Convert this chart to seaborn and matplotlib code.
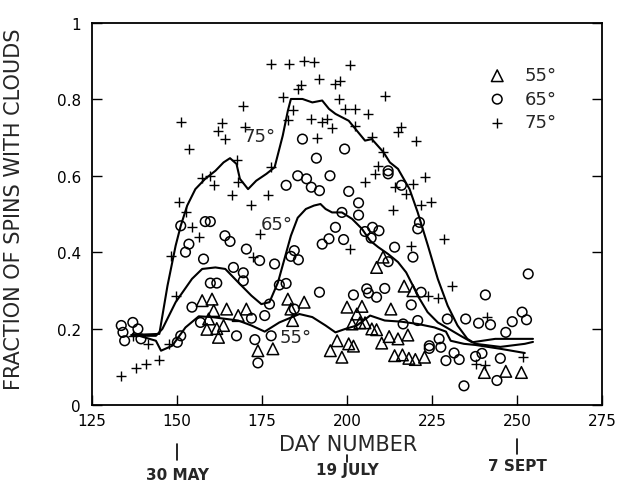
import numpy as np
import pandas as pd
import matplotlib
matplotlib.use("Agg")
import matplotlib.pyplot as plt
import seaborn as sns

# ---------------- data ----------------
day_75 = [133.6, 137.9, 140.9, 144.8, 137.0, 141.4, 147.7, 149.6, 148.2, 150.6,
          152.5, 154.4, 156.4, 151.1, 153.5, 157.4, 159.8, 161.0, 162.2, 163.2,
          164.0, 166.3, 167.5, 168.0, 169.5, 170.0, 171.9, 172.4, 174.3, 176.7,
          177.7, 177.7, 181.1, 182.6, 183.0, 184.0, 185.5, 186.4, 187.4, 189.5,
          190.3, 191.3, 191.8, 192.7, 194.2, 195.6, 196.6, 197.6, 198.0, 199.5,
          200.9, 200.9, 202.4, 202.4, 205.3, 206.3, 207.3, 208.2, 209.2, 210.6,
          211.1, 213.5, 214.0, 215.0, 216.0, 217.4, 218.9, 219.4, 220.3, 221.8,
          222.8, 223.7, 224.7, 226.9, 228.6, 230.8, 237.8, 240.6, 241.2, 251.8]
val_75 = [0.077, 0.096, 0.107, 0.118, 0.181, 0.160, 0.160, 0.286, 0.391, 0.530,
          0.504, 0.465, 0.439, 0.740, 0.670, 0.593, 0.600, 0.575, 0.718, 0.738,
          0.696, 0.549, 0.640, 0.583, 0.783, 0.727, 0.523, 0.387, 0.448, 0.549,
          0.623, 0.893, 0.806, 0.745, 0.893, 0.771, 0.827, 0.837, 0.901, 0.749,
          0.897, 0.698, 0.853, 0.740, 0.749, 0.724, 0.840, 0.800, 0.849, 0.775,
          0.889, 0.408, 0.775, 0.731, 0.583, 0.762, 0.701, 0.605, 0.626, 0.661,
          0.810, 0.510, 0.570, 0.714, 0.727, 0.552, 0.417, 0.579, 0.692, 0.523,
          0.596, 0.286, 0.531, 0.280, 0.435, 0.311, 0.107, 0.105, 0.229, 0.125]

day_65 = [133.6, 134.1, 134.6, 137.0, 138.5, 139.4, 150.1, 151.1, 151.1, 152.5,
          153.5, 154.4, 156.9, 157.8, 158.3, 159.8, 159.8, 161.7, 164.1, 165.6,
          166.6, 167.5, 169.5, 169.5, 170.4, 171.9, 172.9, 173.8, 174.3, 175.8,
          177.2, 177.7, 178.7, 180.1, 182.1, 182.1, 183.5, 184.5, 184.5, 185.5,
          185.7, 186.9, 188.1, 189.5, 191.0, 191.9, 191.9, 192.7, 194.7, 195.0,
          196.6, 198.5, 199.0, 199.3, 200.5, 201.9, 203.4, 203.4, 205.3, 205.8,
          206.3, 207.1, 207.5, 208.7, 209.4, 211.1, 212.1, 212.1, 212.1, 214.0,
          216.0, 216.5, 218.9, 219.4, 220.8, 221.3, 220.8, 221.8, 224.2, 224.2,
          227.1, 227.6, 229.1, 229.5, 231.5, 233.0, 234.4, 234.9, 237.8, 238.7,
          239.7, 240.7, 242.2, 244.1, 245.1, 246.7, 248.6, 251.5, 252.8, 253.3]
val_65 = [0.208, 0.190, 0.168, 0.216, 0.199, 0.173, 0.164, 0.181, 0.469, 0.400,
          0.421, 0.256, 0.216, 0.382, 0.480, 0.480, 0.319, 0.319, 0.443, 0.428,
          0.360, 0.181, 0.346, 0.325, 0.408, 0.227, 0.171, 0.110, 0.378, 0.234,
          0.264, 0.181, 0.369, 0.314, 0.318, 0.575, 0.389, 0.404, 0.251, 0.600,
          0.380, 0.696, 0.592, 0.570, 0.646, 0.561, 0.295, 0.421, 0.435, 0.600,
          0.465, 0.504, 0.433, 0.670, 0.559, 0.288, 0.529, 0.497, 0.454, 0.304,
          0.293, 0.437, 0.465, 0.282, 0.456, 0.305, 0.613, 0.605, 0.375, 0.413,
          0.575, 0.212, 0.262, 0.387, 0.461, 0.478, 0.221, 0.295, 0.155, 0.148,
          0.173, 0.151, 0.116, 0.225, 0.136, 0.119, 0.050, 0.225, 0.127, 0.214,
          0.135, 0.288, 0.210, 0.064, 0.122, 0.190, 0.218, 0.243, 0.223, 0.343]

day_55 = [157.4, 158.8, 159.3, 160.3, 160.8, 161.7, 162.2, 163.7, 164.6, 168.0,
          170.4, 173.8, 178.2, 182.6, 183.5, 184.0, 187.4, 195.1, 197.1, 198.5,
          200.0, 200.5, 201.5, 201.9, 202.9, 203.8, 204.4, 205.3, 207.3, 208.7,
          208.7, 210.2, 210.6, 212.4, 212.9, 214.0, 215.0, 216.3, 216.8, 217.9,
          218.2, 219.4, 220.1, 222.8, 240.4, 246.7, 251.3]
val_55 = [0.273, 0.198, 0.225, 0.277, 0.247, 0.200, 0.177, 0.208, 0.251, 0.234,
          0.251, 0.142, 0.147, 0.277, 0.251, 0.221, 0.269, 0.142, 0.168, 0.125,
          0.256, 0.160, 0.212, 0.154, 0.238, 0.215, 0.258, 0.215, 0.199, 0.197,
          0.360, 0.162, 0.387, 0.179, 0.251, 0.129, 0.173, 0.131, 0.311, 0.183,
          0.122, 0.299, 0.119, 0.125, 0.085, 0.088, 0.085]

# smoothed curves
curve_75_day = [136.5, 144.8, 147.2, 149.6, 151.1, 153.0, 155.4, 158.3, 161.3, 163.7,
                165.6, 167.5, 168.5, 170.9, 173.3, 176.3, 178.7, 181.1, 182.6, 183.5,
                186.9, 189.8, 192.7, 194.7, 196.6, 200.5, 205.3, 207.3, 210.7, 212.6,
                215.0, 218.4, 220.8, 223.8, 226.7, 229.6, 232.5, 235.4, 237.8, 245.1,
                252.3, 254.7]
curve_75_val = [0.183, 0.186, 0.312, 0.417, 0.469, 0.522, 0.565, 0.592, 0.613, 0.635,
                0.646, 0.631, 0.592, 0.565, 0.587, 0.605, 0.622, 0.705, 0.770, 0.801,
                0.801, 0.792, 0.797, 0.775, 0.762, 0.744, 0.692, 0.696, 0.662, 0.635,
                0.618, 0.565, 0.504, 0.417, 0.330, 0.260, 0.208, 0.173, 0.160, 0.152,
                0.160, 0.165]

curve_65_day = [137.0, 143.8, 145.7, 149.6, 154.4, 157.4, 161.3, 164.2, 168.0, 171.9,
                174.8, 177.2, 179.7, 183.5, 185.5, 187.9, 190.3, 192.2, 193.7, 195.6,
                198.5, 201.5, 204.4, 206.8, 209.2, 212.1, 215.0, 217.4, 219.4, 220.8,
                223.7, 226.7, 229.6, 233.4, 236.8, 243.6, 254.7]
curve_65_val = [0.181, 0.181, 0.199, 0.269, 0.330, 0.356, 0.360, 0.356, 0.321, 0.286,
                0.264, 0.269, 0.321, 0.443, 0.490, 0.513, 0.522, 0.526, 0.513, 0.504,
                0.504, 0.487, 0.461, 0.430, 0.413, 0.395, 0.374, 0.347, 0.312, 0.286,
                0.243, 0.216, 0.201, 0.181, 0.164, 0.173, 0.173]

curve_55_day = [137.0, 143.8, 145.3, 148.6, 152.5, 156.4, 160.3, 168.0, 171.9, 175.8,
                180.1, 186.0, 189.8, 193.7, 196.6, 199.5, 202.9, 206.8, 211.1, 216.0,
                220.8, 225.7, 229.1, 230.5, 234.4, 237.8, 245.1, 252.3]
curve_55_val = [0.186, 0.168, 0.142, 0.155, 0.203, 0.232, 0.230, 0.221, 0.208, 0.192,
                0.216, 0.238, 0.230, 0.208, 0.190, 0.199, 0.208, 0.234, 0.221, 0.218,
                0.212, 0.203, 0.192, 0.168, 0.160, 0.157, 0.147, 0.136]

series_labels = ["55°", "65°", "75°"]
x_ticks = [125, 150, 175, 200, 225, 250, 275]
y_ticks = [0, 0.2, 0.4, 0.6, 0.8, 1.0]
y_ticklabels = ["0", "0.2", "0.4", "0.6", "0.8", "1"]
date_days = [150, 200, 250]
date_labels = ["30 MAY", "19 JULY", "7 SEPT"]

# ---------------- figure ----------------
sns.set_style("ticks")
plt.rcParams["font.family"] = ["DejaVu Sans"]

fig = plt.figure(figsize=(6.28, 4.85), dpi=100)
ax = fig.add_axes([0.1465, 0.163, 0.8121, 0.7876])

pts = {
    "55°": pd.DataFrame({"day": day_55, "frac": val_55}),
    "65°": pd.DataFrame({"day": day_65, "frac": val_65}),
    "75°": pd.DataFrame({"day": day_75, "frac": val_75}),
}

sns.scatterplot(data=pts["55°"], x="day", y="frac", marker="^", s=70,
                facecolor="none", edgecolor="black", linewidth=1.1, ax=ax, label="55°")
sns.scatterplot(data=pts["65°"], x="day", y="frac", marker="o", s=48,
                facecolor="none", edgecolor="black", linewidth=1.1, ax=ax, label="65°")
sns.scatterplot(data=pts["75°"], x="day", y="frac", marker="+", s=50,
                color="black", linewidth=1.0, ax=ax, label="75°")

curves = [(curve_75_day, curve_75_val), (curve_65_day, curve_65_val),
          (curve_55_day, curve_55_val)]
for cd, cv in curves:
    sns.lineplot(x=cd, y=cv, color="black", linewidth=1.5, ax=ax,
                 estimator=None, sort=False, legend=False)

# in-plot curve labels
ax.text(174.4, 0.704, "75°", fontsize=13, ha="center", va="center")
ax.text(179.4, 0.474, "65°", fontsize=13, ha="center", va="center")
ax.text(184.9, 0.178, "55°", fontsize=13, ha="center", va="center")

ax.set_xlim(125, 275)
ax.set_ylim(0, 1)
ax.set_xticks(x_ticks)
ax.set_xticklabels([str(t) for t in x_ticks])
ax.set_yticks(y_ticks)
ax.set_yticklabels(y_ticklabels)
ax.tick_params(axis="both", direction="in", length=7, width=1, labelsize=11,
               colors="black", pad=8)
ax.tick_params(axis="x", pad=6)
ax.tick_params(axis="y", right=True, labelright=False)
for sp in ax.spines.values():
    sp.set_visible(True)
    sp.set_linewidth(1.3)
    sp.set_color("black")

ax.set_xlabel("DAY NUMBER", fontsize=15)
ax.xaxis.set_label_coords(0.502, -0.076)
ax.set_ylabel("FRACTION OF SPINS WITH CLOUDS", fontsize=15)
ax.yaxis.set_label_coords(-0.133, 0.515)

# calendar date markers below the axis
tr = ax.get_xaxis_transform()
mark_y = [(-0.102, -0.143), (-0.131, -0.149), (-0.089, -0.128)]
text_y = [-0.182, -0.17, -0.159]
for d, lab, (y0, y1), ty in zip(date_days, date_labels, mark_y, text_y):
    ax.plot([d, d], [y0, y1], color="black", linewidth=1.2, transform=tr, clip_on=False)
    ax.text(d, ty, lab, transform=tr, ha="center", va="center", fontsize=11,
            fontweight="bold")

leg = ax.legend(loc="upper left", bbox_to_anchor=(0.745, 0.905), frameon=False,
                fontsize=13, handletextpad=0.5, labelspacing=0.3, borderaxespad=0)

fig.savefig("out.png", dpi=100)
